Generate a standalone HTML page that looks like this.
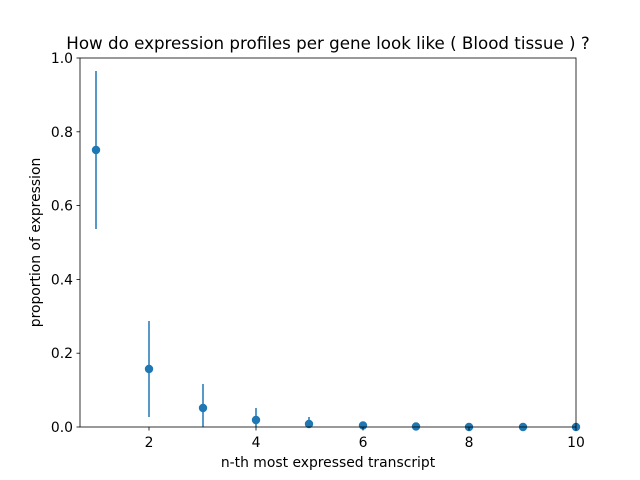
<!DOCTYPE html>
<html><head><meta charset="utf-8"><style>body{margin:0;background:#fff}svg{display:block}</style></head>
<body>
<svg width="640" height="480" xmlns="http://www.w3.org/2000/svg" font-family="DejaVu Sans, Liberation Sans, sans-serif">
<rect width="640" height="480" fill="#fff"/>
<g stroke="#1f77b4" stroke-width="1.5">
<line x1="96" y1="71" x2="96" y2="229"/>
<line x1="149" y1="321" x2="149" y2="417"/>
<line x1="203" y1="384" x2="203" y2="427"/>
<line x1="256" y1="408" x2="256" y2="427"/>
<line x1="309" y1="417" x2="309" y2="427"/>
<line x1="363" y1="423" x2="363" y2="427"/>
</g>
<g fill="#1f77b4">
<circle cx="96" cy="150" r="4.2"/>
<circle cx="149" cy="369" r="4.2"/>
<circle cx="203" cy="408" r="4.2"/>
<circle cx="256" cy="420" r="4.2"/>
<circle cx="309" cy="424" r="4.2"/>
<circle cx="363" cy="425.5" r="4.2"/>
<circle cx="416" cy="426.5" r="4.2"/>
<circle cx="469" cy="427" r="4.2"/>
<circle cx="523" cy="427" r="4.2"/>
<circle cx="576" cy="427" r="4.2"/>
</g>
<rect x="80" y="58" width="496" height="369" fill="none" stroke="#000" stroke-width="0.8"/>
<g stroke="#000" stroke-width="0.8">
<line x1="149" y1="427" x2="149" y2="430.5"/><line x1="256" y1="427" x2="256" y2="430.5"/>
<line x1="363" y1="427" x2="363" y2="430.5"/><line x1="469" y1="427" x2="469" y2="430.5"/>
<line x1="576" y1="427" x2="576" y2="430.5"/>
<line x1="76.5" y1="427" x2="80" y2="427"/><line x1="76.5" y1="353.2" x2="80" y2="353.2"/>
<line x1="76.5" y1="279.4" x2="80" y2="279.4"/><line x1="76.5" y1="205.6" x2="80" y2="205.6"/>
<line x1="76.5" y1="131.8" x2="80" y2="131.8"/><line x1="76.5" y1="58" x2="80" y2="58"/>
</g>
<g font-size="13.9" text-anchor="middle" fill="#000">
<text x="149" y="447">2</text><text x="256" y="447">4</text><text x="363" y="447">6</text>
<text x="469" y="447">8</text><text x="576" y="447">10</text>
</g>
<g font-size="13.9" text-anchor="end" fill="#000">
<text x="73" y="432">0.0</text><text x="73" y="358">0.2</text><text x="73" y="284.5">0.4</text>
<text x="73" y="210.5">0.6</text><text x="73" y="137">0.8</text><text x="73" y="63">1.0</text>
</g>
<text x="328" y="467" font-size="13.9" text-anchor="middle">n-th most expressed transcript</text>
<text x="40" y="242.5" font-size="13.9" text-anchor="middle" transform="rotate(-90 40 242.5)">proportion of expression</text>
<text x="328" y="49" font-size="16.7" text-anchor="middle">How do expression profiles per gene look like ( Blood tissue ) ?</text>
</svg>
</body></html>
